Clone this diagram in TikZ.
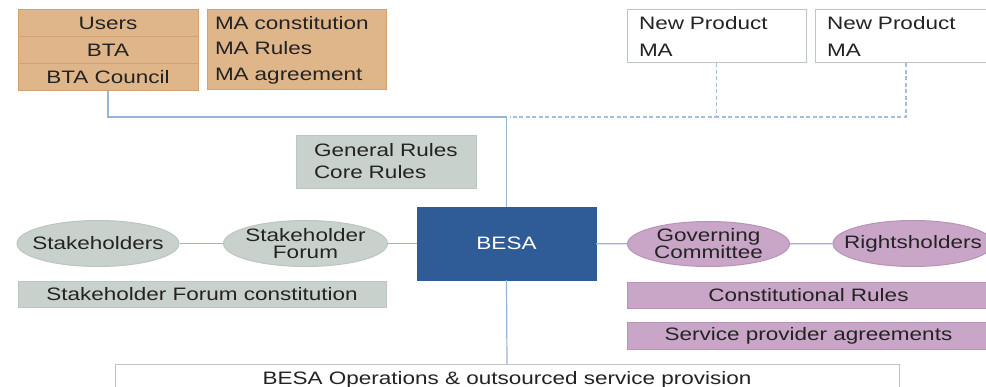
\documentclass[tikz,border=0pt]{standalone}
\usepackage{fontspec}
\setmainfont{Liberation Sans}[FakeStretch=1.25]
\usetikzlibrary{shapes.geometric}
\definecolor{tanfill}{RGB}{223,181,138}
\definecolor{tanline}{RGB}{212,160,112}
\definecolor{grayfill}{RGB}{201,209,204}
\definecolor{grayline}{RGB}{186,198,192}
\definecolor{purfill}{RGB}{201,166,200}
\definecolor{purline}{RGB}{184,146,183}
\definecolor{besablue}{RGB}{47,91,150}
\definecolor{conn}{RGB}{150,180,214}
\definecolor{dconn}{RGB}{165,190,222}
\definecolor{txt}{RGB}{35,35,35}
\definecolor{npline}{RGB}{185,200,192}
\begin{document}
\begin{tikzpicture}[x=1pt,y=-1pt,
  every node/.style={font=\fontsize{18}{22}\selectfont, text=txt, inner sep=0pt},
  tanrow/.style={draw=tanline, fill=tanfill, line width=1pt, minimum width=180pt, minimum height=26.67pt},
  tanbox/.style={draw=tanline, fill=tanfill, line width=1pt, minimum width=179pt, minimum height=80pt,
    text width=163pt, align=left, font=\fontsize{18}{25.5}\selectfont},
  npbox/.style={draw=npline, fill=white, line width=1pt, minimum height=53pt,
    align=left, font=\fontsize{18}{27}\selectfont},
  graybox/.style={draw=grayline, fill=grayfill, line width=0.8pt},
  purbox/.style={draw=purline, fill=purfill, line width=0.8pt},
  grayell/.style={ellipse, draw=grayline, fill=grayfill, line width=1pt, minimum height=46pt},
  purell/.style={ellipse, draw=purline, fill=purfill, line width=1pt, minimum height=46pt},
  twoline/.style={font=\fontsize{18}{17}\selectfont, align=center},
  conline/.style={draw=conn, line width=1.2pt},
  dashline/.style={draw=dconn, line width=1.1pt, dash pattern=on 4pt off 2.5pt}
]
\useasboundingbox (0,0) rectangle (986,387);
\clip (0,0) rectangle (986,387);

% top left boxes
\node[tanrow] (users) at (108,23.3) {Users};
\node[tanrow] (bta) at (108,50) {BTA};
\node[tanrow] (btac) at (108,76.7) {BTA Council};
\node[tanbox] (ma) at (296.5,50) {MA constitution\\MA Rules\\MA agreement};

% new product boxes
\node[npbox, minimum width=179pt, text width=155pt] (np1) at (716.5,36.5) {New Product\\MA};
\node[npbox, minimum width=182pt, text width=158pt] (np2) at (906,36.5) {New Product\\MA};

% general rules
\node[graybox, minimum width=180pt, minimum height=53pt, text width=144pt, align=left,
  font=\fontsize{18}{22}\selectfont] (gen) at (386,161.5) {General Rules\\Core Rules};

% BESA
\node[draw=besablue, fill=besablue, minimum width=179pt, minimum height=73pt, text=white] (besa) at (506.5,243.5) {BESA};

% left ellipses
\node[grayell, minimum width=162pt, label={[twoline]center:Stakeholders}] (stk) at (98,243.5) {};
\node[grayell, minimum width=164pt, label={[twoline]center:Stakeholder\\Forum}] (forum) at (305.5,243.5) {};
\node[graybox, minimum width=368pt, minimum height=26pt] (sfc) at (202,294) {Stakeholder Forum constitution};

% right ellipses
\node[purell, minimum width=162pt, minimum height=45pt, label={[twoline]center:Governing\\Committee}] (gov) at (708.5,244) {};
\node[purell, minimum width=160pt, label={[twoline]center:Rightsholders}] (rights) at (913,243.5) {};
\node[purbox, minimum width=363pt, minimum height=26pt] (cons) at (808.5,295) {Constitutional Rules};
\node[purbox, minimum width=363pt, minimum height=27pt] (serv) at (808.5,336) {Service provider agreements};

% operations
\node[draw=npline, fill=white, line width=1pt, minimum width=784pt, minimum height=30pt, anchor=north] (ops) at (507,364) {BESA Operations \& outsourced service provision};

% connectors
\coordinate (j) at (besa.north |- 0,117);
\coordinate (jd) at ([xshift=3pt]j);
\path[conline] (btac.south) |- (j) -- (besa.north);
\path[dashline] (np1.south) |- (jd);
\path[dashline] (np2.south) |- (np1.south |- j);
\path[conline] (stk) -- (forum);
\path[conline] (forum) -- (besa);
\path[conline] (besa) -- (gov);
\path[conline] (gov) -- (rights);
\path[conline] (besa.south) -- (ops.north);
\end{tikzpicture}
\end{document}
